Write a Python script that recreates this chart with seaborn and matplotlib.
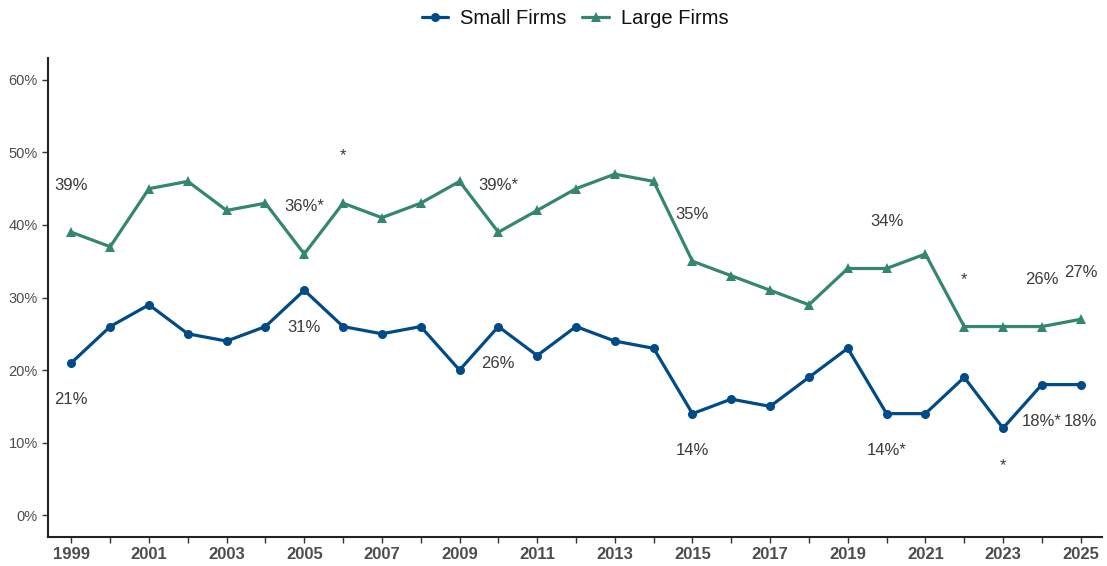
import matplotlib
matplotlib.use("Agg")
import matplotlib.pyplot as plt
import matplotlib.ticker as mticker
import numpy as np
import pandas as pd
import seaborn as sns

years = list(range(1999, 2026))
small_firms = [21, 26, 29, 25, 24, 26, 31, 26, 25, 26, 20, 26, 22, 26, 24, 23,
               14, 16, 15, 19, 23, 14, 14, 19, 12, 18, 18]
large_firms = [39, 37, 45, 46, 42, 43, 36, 43, 41, 43, 46, 39, 42, 45, 47, 46,
               35, 33, 31, 29, 34, 34, 36, 26, 26, 26, 27]

# Value labels (year -> text); "*" marks a significant change
small_labels = {1999: "21%", 2005: "31%", 2010: "26%", 2015: "14%",
                2020: "14%*", 2023: "*", 2024: "18%*", 2025: "18%"}
large_labels = {1999: "39%", 2005: "36%*", 2006: "*", 2010: "39%*",
                2015: "35%", 2020: "34%", 2022: "*", 2024: "26%", 2025: "27%"}

series_names = ["Small Firms", "Large Firms"]
colors = {"Small Firms": "#004a87", "Large Firms": "#358670"}
markers = {"Small Firms": "o", "Large Firms": "^"}

df = pd.DataFrame({
    "year": years * 2,
    "value": small_firms + large_firms,
    "series": ["Small Firms"] * len(years) + ["Large Firms"] * len(years),
})

sns.set_theme(style="ticks")
plt.rcParams["font.family"] = ["Liberation Sans", "DejaVu Sans"]

fig = plt.figure(figsize=(11.07, 5.66), dpi=100)
ax = fig.add_axes([0.0434, 0.0512, 0.9521, 0.8463])

sns.lineplot(data=df, x="year", y="value", hue="series", style="series",
             hue_order=series_names, style_order=series_names,
             palette=colors, markers=markers, dashes=False,
             linewidth=2.3, markersize=6.5, markeredgewidth=0, ax=ax)

text_color = "#3a3a3a"
for yr, lab in large_labels.items():
    v = large_firms[years.index(yr)]
    ax.text(yr, v + 6.5, lab, ha="center", va="center", fontsize=12, color=text_color)
for yr, lab in small_labels.items():
    v = small_firms[years.index(yr)]
    ax.text(yr, v - 5.1, lab, ha="center", va="center", fontsize=12, color=text_color)

ax.set_xlim(1998.4, 2025.55)
ax.set_ylim(-3, 63)
ax.set_xticks(years)
ax.set_xticklabels([str(y) if (y - 1999) % 2 == 0 else "" for y in years],
                   fontweight="bold", fontsize=12, color="#4d4d4d")
ax.set_yticks(range(0, 61, 10))
ax.yaxis.set_major_formatter(mticker.FuncFormatter(lambda v, p: f"{int(v)}%"))
ax.tick_params(axis="y", labelsize=10.5, colors="#4d4d4d", length=4, width=1)
ax.tick_params(axis="x", length=4, width=1, color="#333333", pad=3)
ax.tick_params(axis="y", color="#333333")
ax.set_xlabel("")
ax.set_ylabel("")
for side in ["top", "right"]:
    ax.spines[side].set_visible(False)
for side in ["left", "bottom"]:
    ax.spines[side].set_linewidth(1.5)
    ax.spines[side].set_color("#222222")

handles, labels = ax.get_legend_handles_labels()
ax.legend(handles, labels, loc="upper center", bbox_to_anchor=(0.5, 1.14),
          ncol=2, frameon=False, fontsize=14.5, handlelength=1.3,
          columnspacing=0.8, handletextpad=0.6, labelcolor="#111111")

fig.savefig("out.png", dpi=100)
